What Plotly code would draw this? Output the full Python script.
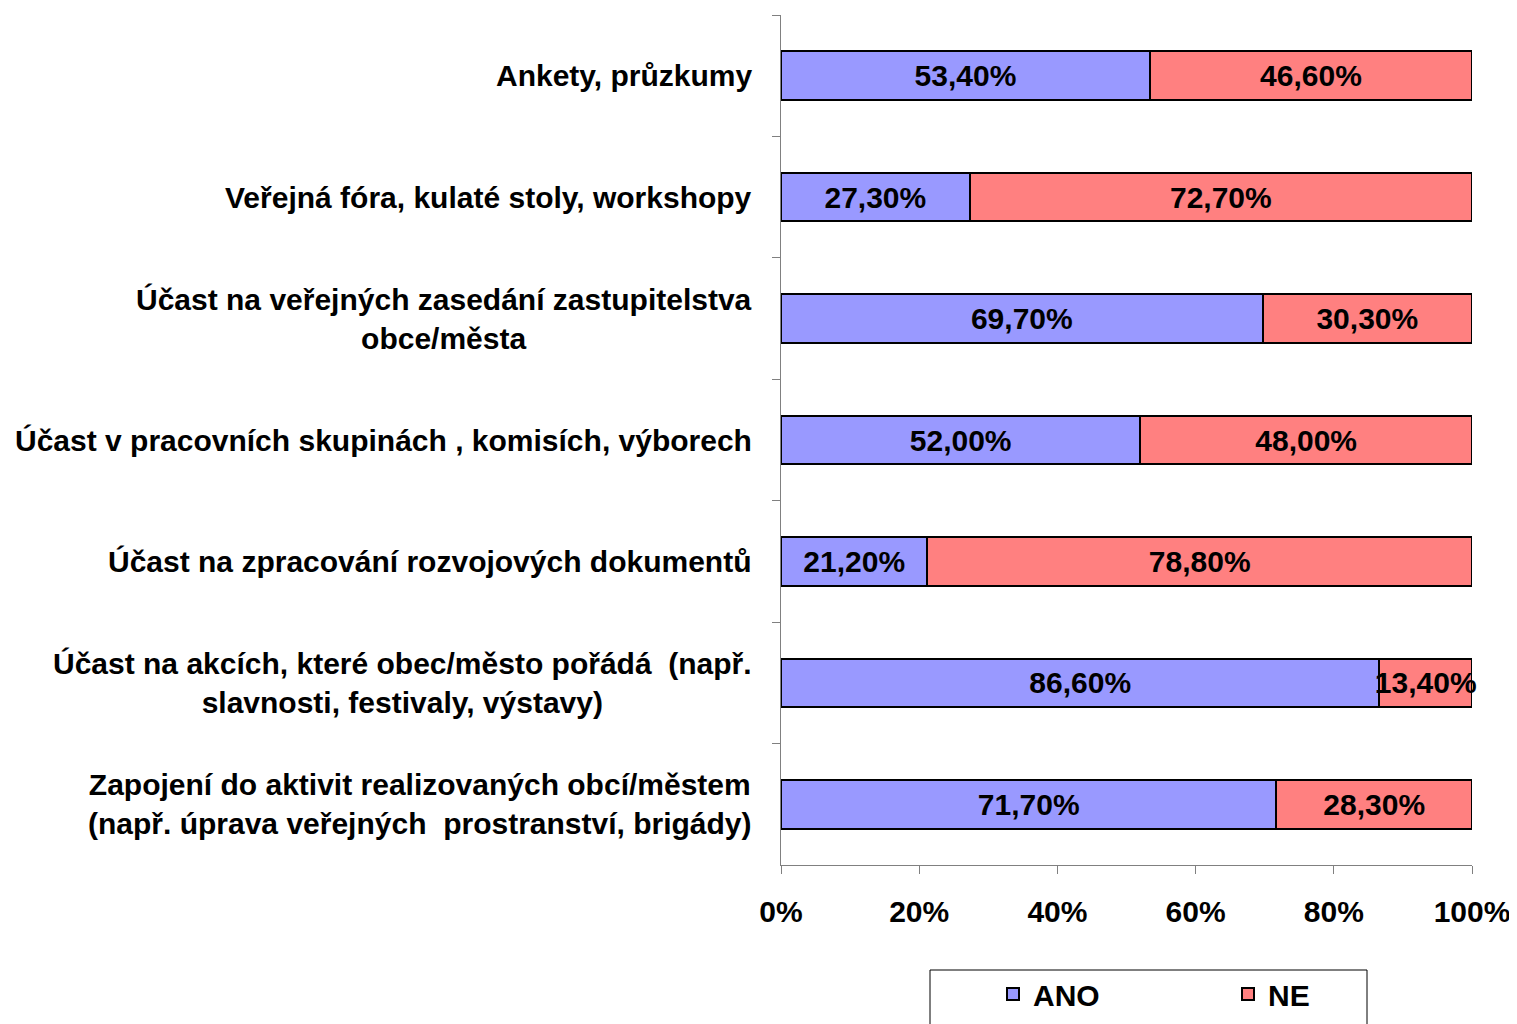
import plotly.graph_objects as go

categories = [
    "Ankety, průzkumy",
    "Veřejná fóra, kulaté stoly, workshopy",
    "Účast na veřejných zasedání zastupitelstva<br>obce/města",
    "Účast v pracovních skupinách , komisích, výborech",
    "Účast na zpracování rozvojových dokumentů",
    "Účast na akcích, které obec/město pořádá  (např.<br>slavnosti, festivaly, výstavy)",
    "Zapojení do aktivit realizovaných obcí/městem<br>(např. úprava veřejných  prostranství, brigády)",
]
ano = [53.4, 27.3, 69.7, 52.0, 21.2, 86.6, 71.7]
ne = [46.6, 72.7, 30.3, 48.0, 78.8, 13.4, 28.3]

FONT = "Liberation Sans, Arial, sans-serif"
FS = 30

fig = go.Figure()
for name, vals, color in [("ANO", ano, "#9999FF"), ("NE", ne, "#FF8080")]:
    fig.add_trace(go.Bar(
        y=categories, x=vals, name=name, orientation="h",
        marker=dict(color=color, line=dict(color="black", width=2)),
        texttemplate="%{x:.2f}%", textposition="inside",
        insidetextanchor="middle", textangle=0, constraintext="none",
        cliponaxis=False,
        textfont=dict(family=FONT, size=FS, color="black", weight="bold"),
    ))

# category labels, centred lines like the original
for cat in categories:
    fig.add_annotation(
        x=0, xref="paper", y=cat, yref="y", xanchor="right", xshift=-27,
        text=cat, showarrow=False, align="center",
        font=dict(family=FONT, size=FS, color="black", weight="bold"),
    )

# legend frame (plot area spans 691 x 850 px)
fig.add_shape(type="rect", xref="paper", yref="paper",
              x0=(930 - 781) / 691, x1=(1367 - 781) / 691,
              y0=(865 - 970) / 850, y1=(865 - 1040) / 850,
              line=dict(color="black", width=1), fillcolor="white", layer="below")

fig.update_layout(
    width=1517, height=1024,
    margin=dict(l=773, r=53, t=7, b=167, autoexpand=False),
    barmode="stack", bargap=0.6,
    plot_bgcolor="white", paper_bgcolor="white",
    separators=", ",
    font=dict(family=FONT, size=FS, color="black"),
    legend=dict(
        orientation="h", x=(993 - 781) / 691, y=(865 - 968) / 850,
        xanchor="left", yanchor="top", entrywidth=190, traceorder="normal",
        font=dict(family=FONT, size=FS, color="black", weight="bold"),
        bgcolor="rgba(0,0,0,0)",
    ),
    xaxis=dict(
        range=[0, 100], dtick=20, ticksuffix="%", showgrid=False, zeroline=False,
        showline=True, linecolor="#808080", linewidth=1,
        ticks="outside", ticklen=8, tickcolor="#808080",
        ticklabelstandoff=12, automargin=False,
        tickfont=dict(family=FONT, size=FS, color="black", weight="bold"),
    ),
    yaxis=dict(
        autorange="reversed", showticklabels=False, showgrid=False,
        showline=True, linecolor="#808080", linewidth=1, automargin=False,
        ticks="outside", ticklen=8, tickcolor="#808080", tickson="boundaries",
    ),
)

fig.write_html("out.html")
